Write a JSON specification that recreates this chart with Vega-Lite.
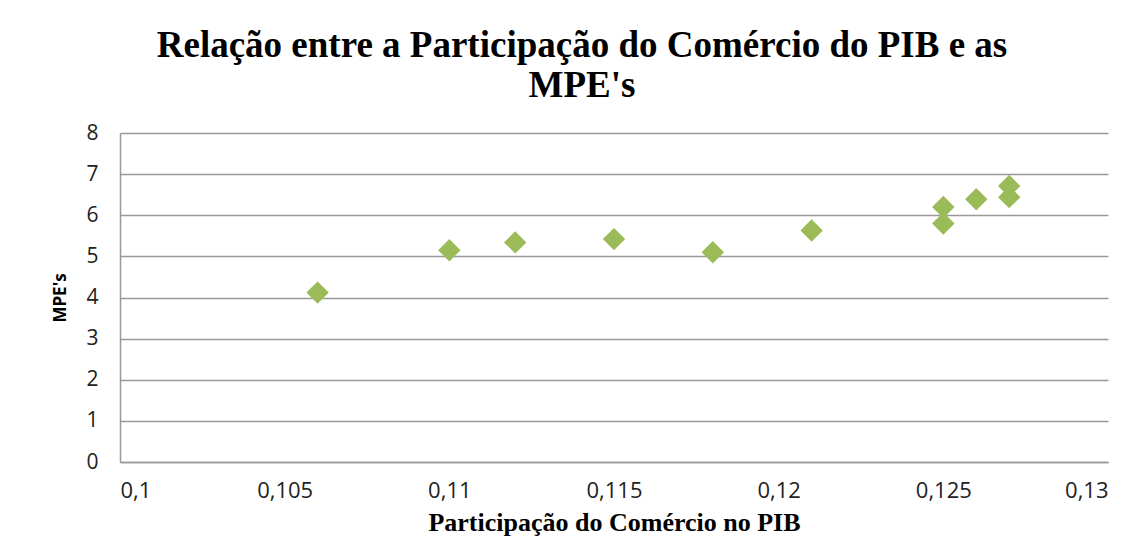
{
  "$schema": "https://vega.github.io/schema/vega-lite/v6.json",
  "width": 988,
  "height": 329,
  "autosize": "none",
  "padding": {"left": 120, "top": 133, "right": 40, "bottom": 96},
  "background": "white",
  "title": {
    "text": ["Relação entre a Participação do Comércio do PIB e as", "MPE's"],
    "font": "Liberation Serif",
    "fontSize": 37,
    "fontWeight": "bold",
    "color": "black",
    "lineHeight": 40,
    "anchor": "middle",
    "frame": "group",
    "dx": -32,
    "offset": 17
  },
  "data": {
    "values": [
      {"x": 0.106, "y": 4.12},
      {"x": 0.110, "y": 5.15},
      {"x": 0.112, "y": 5.34},
      {"x": 0.115, "y": 5.42},
      {"x": 0.118, "y": 5.1},
      {"x": 0.121, "y": 5.63},
      {"x": 0.125, "y": 6.2},
      {"x": 0.125, "y": 5.8},
      {"x": 0.126, "y": 6.39},
      {"x": 0.127, "y": 6.71},
      {"x": 0.127, "y": 6.44}
    ]
  },
  "mark": {"type": "point", "shape": "diamond", "filled": true, "size": 500, "color": "#9BBB59", "opacity": 1},
  "encoding": {
    "x": {
      "field": "x",
      "type": "quantitative",
      "scale": {"domain": [0.1, 0.13], "nice": false, "zero": false},
      "axis": {
        "values": [0.1, 0.105, 0.11, 0.115, 0.12, 0.125, 0.13],
        "labelExpr": "replace(format(datum.value, '~g'), '.', ',')",
        "grid": false,
        "ticks": false,
        "domainColor": "#999999",
        "domainWidth": 1.5,
        "labelFont": "Open Sans",
        "labelFontSize": 22,
        "labelColor": "#222222",
        "labelPadding": 18,
        "title": "Participação do Comércio no PIB",
        "titleFont": "Liberation Serif",
        "titleFontSize": 26,
        "titleFontWeight": "bold",
        "titleColor": "black",
        "titlePadding": 8
      }
    },
    "y": {
      "field": "y",
      "type": "quantitative",
      "scale": {"domain": [0, 8], "nice": false},
      "axis": {
        "values": [0, 1, 2, 3, 4, 5, 6, 7, 8],
        "grid": true,
        "gridColor": "#999999",
        "gridWidth": 1.5,
        "ticks": false,
        "domainColor": "#999999",
        "domainWidth": 1.5,
        "labelFont": "Open Sans",
        "labelFontSize": 21,
        "labelColor": "#222222",
        "labelPadding": 22,
        "title": "MPE's",
        "titleFont": "Open Sans",
        "titleFontSize": 17,
        "titleFontWeight": "bold",
        "titleColor": "black",
        "titlePadding": 16
      }
    }
  },
  "config": {"view": {"stroke": null}}
}
